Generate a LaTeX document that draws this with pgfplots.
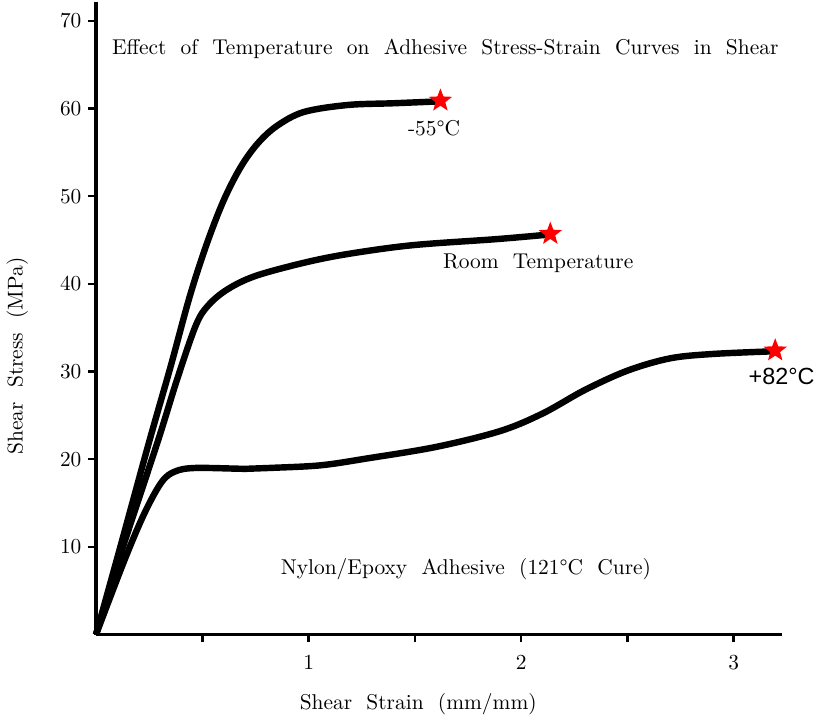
\documentclass[border=0pt]{standalone}
\usepackage{fontspec}
\setmainfont{Latin Modern Roman}[WordSpace=2.0]
\newfontfamily\arial{Liberation Sans}
\usepackage{pgfplots}
\pgfplotsset{compat=1.18}

% filled five-pointed star
\pgfdeclareplotmark{fstar}{%
  \pgfpathmoveto{\pgfqpointpolar{90}{\pgfplotmarksize}}%
  \pgfpathlineto{\pgfqpointpolar{126}{0.42\pgfplotmarksize}}%
  \pgfpathlineto{\pgfqpointpolar{162}{\pgfplotmarksize}}%
  \pgfpathlineto{\pgfqpointpolar{198}{0.42\pgfplotmarksize}}%
  \pgfpathlineto{\pgfqpointpolar{234}{\pgfplotmarksize}}%
  \pgfpathlineto{\pgfqpointpolar{270}{0.42\pgfplotmarksize}}%
  \pgfpathlineto{\pgfqpointpolar{306}{\pgfplotmarksize}}%
  \pgfpathlineto{\pgfqpointpolar{342}{0.42\pgfplotmarksize}}%
  \pgfpathlineto{\pgfqpointpolar{18}{\pgfplotmarksize}}%
  \pgfpathlineto{\pgfqpointpolar{54}{0.42\pgfplotmarksize}}%
  \pgfpathclose\pgfusepathqfill}

\begin{document}
\begin{tikzpicture}[font=\fontsize{11}{13}\selectfont]
\begin{axis}[
  width=352pt, height=325pt, scale only axis,
  xmin=0, xmax=3.225, ymin=0, ymax=72.2,
  axis x line=bottom, axis y line=left,
  axis line style={-, line width=1.6pt},
  tick align=outside,
  major tick length=4pt,
  tick style={line width=1.3pt, black},
  xtick={0.5,1,1.5,2,2.5,3},
  xticklabels={,1,,2,,3},
  ytick={10,20,30,40,50,60,70},
  xticklabel style={yshift=-3pt},
  xlabel={Shear Strain (mm/mm)},
  ylabel={Shear Stress (MPa)},
  xlabel style={at={(axis description cs:0.47,0)}, anchor=center, yshift=-36pt},
  ylabel style={at={(axis description cs:-0.115,0.44)}, anchor=center},
  clip=false,
]
% -55 C
\addplot[line width=3.3pt, smooth, tension=0.55] coordinates {
  (0,0) (0.12,10.5) (0.25,22) (0.35,30.5) (0.44,38.5) (0.52,44.5)
  (0.60,49.5) (0.68,53.3) (0.76,56.0) (0.85,58.0) (0.977,59.6)
  (1.183,60.4) (1.40,60.6) (1.60,60.8)};
% room temperature
\addplot[line width=3.3pt, smooth, tension=0.55] coordinates {
  (0,0) (0.12,9.5) (0.29,22) (0.38,29) (0.47,35.3) (0.53,37.6)
  (0.62,39.4) (0.75,40.9) (0.977,42.4) (1.183,43.4) (1.485,44.4)
  (1.883,45.1) (2.12,45.6)};
% +82 C
\addplot[line width=3.3pt, smooth, tension=0.55] coordinates {
  (0,0) (0.134,8.5) (0.229,13.9) (0.309,17.4) (0.372,18.6) (0.468,19.0)
  (0.706,18.9) (0.817,19.0) (1.056,19.3) (1.279,20.1) (1.6,21.4)
  (1.9,23.2) (2.1,25.2) (2.3,27.9) (2.5,30.1) (2.7,31.5) (2.9,32.0)
  (3.18,32.3)};
\addplot[only marks, mark=fstar, mark size=6.3pt, red] coordinates {
  (1.62,60.9) (2.137,45.7) (3.195,32.4)};
\node[anchor=west] at (axis cs:0.043,66.8)
  {Effect of Temperature on Adhesive Stress-Strain Curves in Shear};
\node at (axis cs:1.59,57.7) {-55°C};
\node at (axis cs:2.08,42.4) {Room Temperature};
\node at (axis cs:3.225,29.4) {\arial\large +82°C};
\node at (axis cs:1.74,7.5) {Nylon/Epoxy Adhesive (121°C Cure)};
\end{axis}
\end{tikzpicture}
\end{document}
